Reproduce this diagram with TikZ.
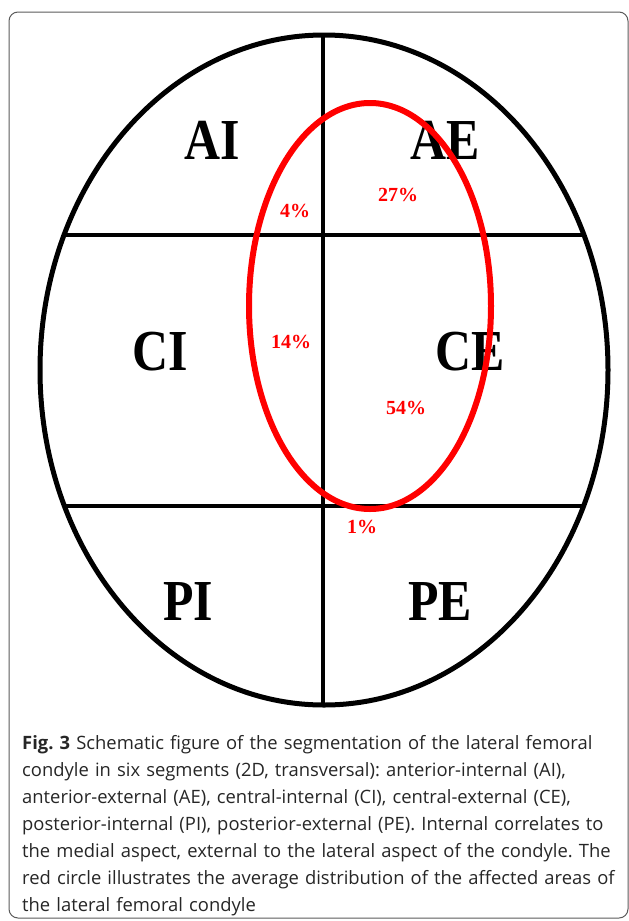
\documentclass[tikz,border=0pt]{standalone}
\usepackage{fontspec}
\setmainfont{Liberation Serif}
\newfontfamily\segfont[FakeStretch=0.86]{Liberation Serif}
\newfontfamily\capfont{Open Sans}
\definecolor{segred}{RGB}{255,0,0}
\definecolor{framegray}{RGB}{90,90,90}

\begin{document}
\frenchspacing
\begin{tikzpicture}[x=1pt, y=-1pt,
  seg/.style={font=\segfont\fontsize{58}{58}\selectfont\bfseries},
  pct/.style={text=segred, font=\fontsize{20}{20}\selectfont\bfseries},
  caption/.style={anchor=north west, inner sep=0pt, text width=604pt, align=left,
    text=black!85, font=\capfont\fontsize{18.4}{27}\selectfont}]
\useasboundingbox (0,0) rectangle (629,921);
% outer frame of the figure
\draw[framegray, line width=1pt, rounded corners=9pt] (9,12) rectangle (628,918);
% condyle outline, cut into six segments
\begin{scope}
  \clip (324,370) ellipse [x radius=284, y radius=335];
  \draw[line width=4pt] (323,0) -- (323,740);
  \draw[line width=4pt] (0,235) -- (629,235);
  \draw[line width=4pt] (0,506) -- (629,506);
\end{scope}
\draw[line width=5pt] (324,370) ellipse [x radius=284, y radius=335];
% segment labels
\node[seg] (ai) at (212,140) {AI};
\node[seg] (ae) at (445,140) {AE};
\node[seg] (ci) at (160,352) {CI};
\node[seg] (ce) at (470,352) {CE};
\node[seg] (pi) at (188,602) {PI};
\node[seg] (pe) at (440,602) {PE};
% affected area (red) and its share per segment
\draw[segred, line width=6pt] (370,306) ellipse [x radius=121, y radius=203];
\node[pct] (p4)  at (295,211) {4\%};
\node[pct] (p27) at (398,195) {27\%};
\node[pct] (p14) at (291,342) {14\%};
\node[pct] (p54) at (406,408) {54\%};
\node[pct] (p1)  at (362,527) {1\%};
% caption
\node[caption] (cap) at (22,735) {{\bfseries Fig. 3} Schematic figure of the segmentation of the lateral femoral\\
condyle in six segments (2D, transversal): anterior-internal (AI),\\
anterior-external (AE), central-internal (CI), central-external (CE),\\
posterior-internal (PI), posterior-external (PE). Internal correlates to\\
the medial aspect, external to the lateral aspect of the condyle. The\\
red circle illustrates the average distribution of the affected areas of\\
the lateral femoral condyle};
\end{tikzpicture}
\end{document}
